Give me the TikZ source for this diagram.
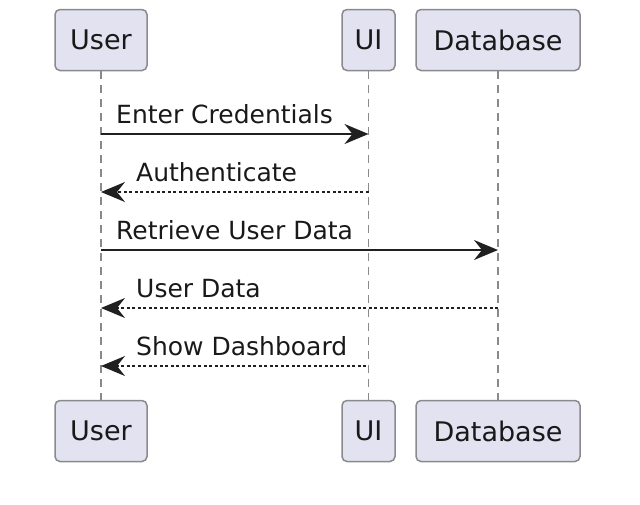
\documentclass[tikz,border=0pt]{standalone}
\usepackage{fontspec}
\setmainfont{DejaVu Sans}
\usepackage{tikz}
\usetikzlibrary{arrows.meta,positioning}
\definecolor{partfill}{HTML}{E2E2F0}
\definecolor{partline}{HTML}{8A8A8E}
\definecolor{msgline}{HTML}{202020}
\tikzstyle{participant} = [draw=partline, fill=partfill, line width=1.5pt, rectangle, rounded corners=5pt, inner sep=0pt, minimum height=61pt, font=\fontsize{27}{32}\selectfont, text=black!90]
\tikzstyle{lifeline} = [draw=partline, line width=1.4pt, dash pattern=on 8pt off 6pt]
\tikzstyle{call} = [draw=msgline, line width=2pt, -{Stealth[length=24pt, width=20pt, inset=8pt]}]
\tikzstyle{reply} = [call, line width=1.6pt, dash pattern=on 3pt off 2.5pt]
\tikzstyle{msglabel} = [inner sep=0pt, anchor=base west, font=\fontsize{25}{30}\selectfont, text=black!90]

\begin{document}
\begin{tikzpicture}[x=1pt, y=-1pt]
	\useasboundingbox (0,0) rectangle (640,504);
	% participants, top and bottom
	\node [participant, minimum width=92pt] (userTop) at (101,40) {User};
	\node [participant, minimum width=53pt] (uiTop) at (368.5,40) {UI};
	\node [participant, minimum width=164pt] (dbTop) at (498,40) {Database};
	\node [participant, minimum width=92pt] (userBot) at (101,431) {User};
	\node [participant, minimum width=53pt] (uiBot) at (368.5,431) {UI};
	\node [participant, minimum width=164pt] (dbBot) at (498,431) {Database};
	% lifelines
	\draw [lifeline] (userTop) -- (userBot);
	\draw [lifeline] (uiTop) -- (uiBot);
	\draw [lifeline] (dbTop) -- (dbBot);
	% message ends
	\coordinate (u1) at (101,134); \coordinate (ui1) at (368.5,134);
	\coordinate (u2) at (101,192); \coordinate (ui2) at (368.5,192);
	\coordinate (u3) at (101,250); \coordinate (db3) at (498,250);
	\coordinate (u4) at (101,308); \coordinate (db4) at (498,308);
	\coordinate (u5) at (101,366); \coordinate (ui5) at (366,366);
	% messages
	\draw [call] (u1) -- (ui1);
	\node [msglabel] (credentials) at (116,123) {Enter Credentials};
	\draw [reply] (ui2) -- (u2);
	\node [msglabel] (authenticate) at (136,181) {Authenticate};
	\draw [call] (u3) -- (db3);
	\node [msglabel] (retrieve) at (116,239) {Retrieve User Data};
	\draw [reply] (db4) -- (u4);
	\node [msglabel] (userdata) at (136,297) {User Data};
	\draw [reply] (ui5) -- (u5);
	\node [msglabel] (dashboard) at (136,355) {Show Dashboard};
\end{tikzpicture}
\end{document}
